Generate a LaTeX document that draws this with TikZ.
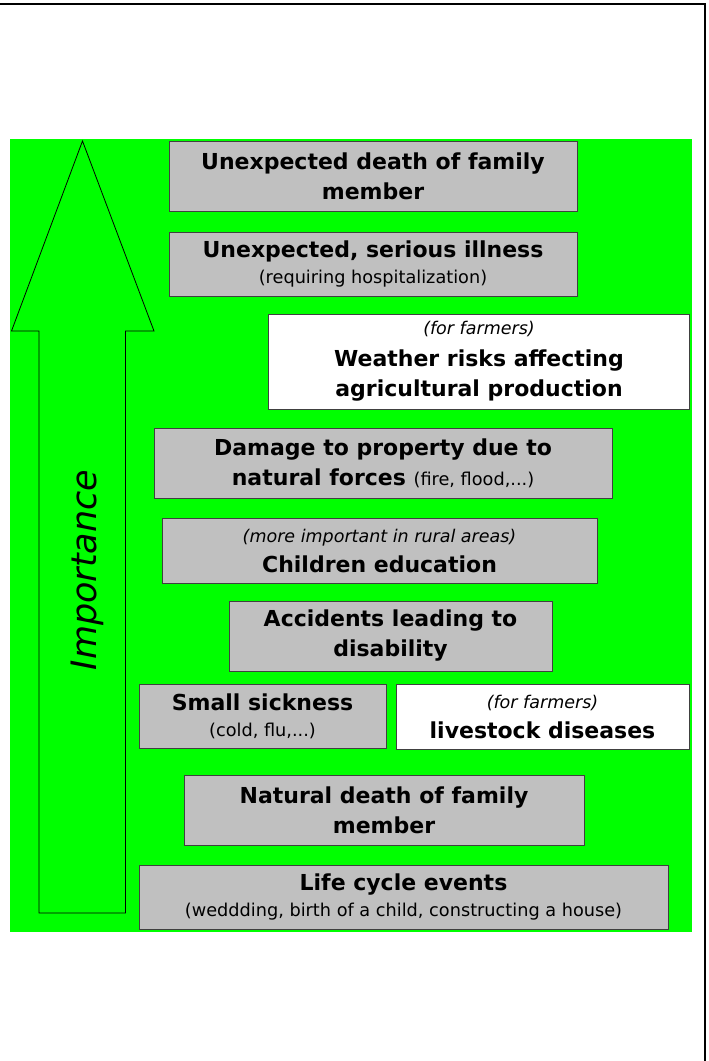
\documentclass[tikz,border=0pt]{standalone}
\usepackage{fontspec}
\setmainfont{DejaVu Sans}
\usepackage{tikz}

\definecolor{bggreen}{RGB}{0,255,0}
\definecolor{boxgray}{RGB}{192,192,192}
\newcommand\lighttxt[1]{{\mdseries\fontsize{17.7}{20}\selectfont #1}}
\newcommand\slanttxt[1]{{\mdseries\itshape\fontsize{17.5}{20}\selectfont #1}}

\begin{document}
\begin{tikzpicture}[x=1pt, y=-1pt,
    event/.style={draw=black!75, line width=1pt, fill=boxgray, align=center, inner sep=0pt,
      font=\bfseries\fontsize{22}{30}\selectfont},
    farm/.style={event, fill=white}]
      \useasboundingbox (0,0) rectangle (709,1061);
      \draw[line width=2pt] (0,3.5) -- (705,3.5) -- (705,1061);
      \fill[bggreen] (10,139) rectangle (692,932);

      \draw[line width=0.8pt] (82.5,141) -- (154,331) -- (125.5,331) -- (125.5,913)
        -- (39,913) -- (39,331) -- (11.5,331) -- cycle;
      \node[rotate=90, font=\itshape\fontsize{35}{40}\selectfont] (importance) at (87,570) {Importance};

      \node[event, minimum width=408pt, minimum height=70pt] (famdeath) at (373,176)
        {Unexpected death of family\\member};
      \node[event, minimum width=408pt, minimum height=64pt] (illness) at (373,264)
        {Unexpected, serious illness\\[-4pt]\lighttxt{(requiring hospitalization)}};
      \node[farm, minimum width=421pt, minimum height=95pt] (weather) at (479,361.5)
        {\slanttxt{(for farmers)}\\[2pt]Weather risks affecting\\agricultural production};
      \node[event, minimum width=458pt, minimum height=70pt] (damage) at (383,463)
        {Damage to property due to\\natural forces \lighttxt{(fire, flood,...)}};
      \node[event, minimum width=435pt, minimum height=65pt] (education) at (379.5,550.5)
        {\slanttxt{(more important in rural areas)}\\Children education};
      \node[event, minimum width=323pt, minimum height=70pt] (accident) at (390.5,636)
        {Accidents leading to\\disability};
      \node[event, minimum width=247pt, minimum height=64pt] (sickness) at (262.5,716)
        {Small sickness\\[-4pt]\lighttxt{(cold, flu,...)}};
      \node[farm, minimum width=293pt, minimum height=65pt] (livestock) at (542.5,716.5)
        {\slanttxt{(for farmers)}\\livestock diseases};
      \node[event, minimum width=400pt, minimum height=70pt] (natdeath) at (384,810)
        {Natural death of family\\member};
      \node[event, minimum width=529pt, minimum height=64pt] (lifecycle) at (403.5,897)
        {Life cycle events\\[-4pt]\lighttxt{(weddding, birth of a child, constructing a house)}};
\end{tikzpicture}
\end{document}
